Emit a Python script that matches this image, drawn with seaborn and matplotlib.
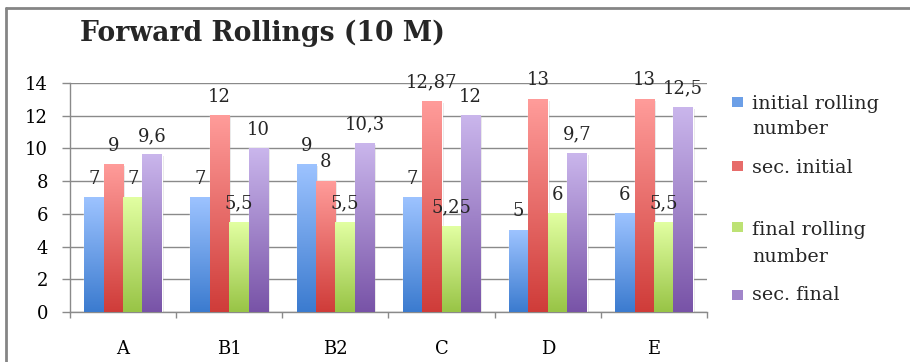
import numpy as np
import pandas as pd
import seaborn as sns
import matplotlib.pyplot as plt
import matplotlib.transforms as mtransforms
from matplotlib.colors import LinearSegmentedColormap, to_rgb
from matplotlib.patches import Rectangle
from matplotlib.lines import Line2D

# ---- data -------------------------------------------------------------
categories = ["A", "B1", "B2", "C", "D", "E"]
series_names = ["initial rolling number", "sec. initial",
                "final rolling number", "sec. final"]
initial_rolling = [7, 7, 9, 7, 5, 6]
sec_initial = [9, 12, 8, 12.87, 13, 13]
final_rolling = [7, 5.5, 5.5, 5.25, 6, 5.5]
sec_final = [9.6, 10, 10.3, 12, 9.7, 12.5]
y_ticks = [0, 2, 4, 6, 8, 10, 12, 14]
legend_lines = [["initial rolling", "number"], ["sec. initial"],
                ["final rolling", "number"], ["sec. final"]]
title = "Forward Rollings (10 M)"

# ---- styling ----------------------------------------------------------
top_colors = ["#9DC3FF", "#FF9C9A", "#E2FFA2", "#CAB6EC"]
bottom_colors = ["#3B7BCF", "#CF3C39", "#98C446", "#7853A7"]
axis_gray = "#8A8A8A"
text_size = 13

sns.set_style("white")
plt.rcParams["font.family"] = ["DejaVu Serif"]

W, H = 910, 362
fig = plt.figure(figsize=(W / 100, H / 100), dpi=100)
ax = fig.add_axes([70 / W, 1 - 312 / H, (707 - 70) / W, (312 - 83) / H])


def fy(py):
    return 1 - py / H


def fx(px):
    return px / W


values = [initial_rolling, sec_initial, final_rolling, sec_final]
df = pd.DataFrame({
    "category": np.repeat([categories], len(series_names), axis=0).ravel(),
    "series": np.repeat(series_names, len(categories)),
    "value": np.concatenate(values),
})

mid_colors = [tuple((np.array(to_rgb(t)) + np.array(to_rgb(b))) / 2)
              for t, b in zip(top_colors, bottom_colors)]

sns.barplot(data=df, x="category", y="value", hue="series",
            order=categories, hue_order=series_names, palette=mid_colors,
            width=0.73, gap=0, errorbar=None, legend=False, ax=ax,
            zorder=2)

# soft drop shadow and vertical gradient fill on every bar
grad = np.linspace(0, 1, 256).reshape(-1, 1)
shadow_tf = mtransforms.offset_copy(ax.transData, fig=fig, x=1.5, y=-1.0,
                                    units="points")
for i, container in enumerate(ax.containers):
    cmap = LinearSegmentedColormap.from_list(
        f"g{i}", [top_colors[i], bottom_colors[i]])
    for bar in container:
        x0, y0 = bar.get_x(), bar.get_y()
        x1, y1 = x0 + bar.get_width(), y0 + bar.get_height()
        ax.add_patch(Rectangle((x0, y0), x1 - x0, y1 - y0,
                               transform=shadow_tf, facecolor="black",
                               alpha=0.1, edgecolor="none", zorder=1.5))
        ax.imshow(grad, cmap=cmap, extent=[x0, x1, y0, y1], origin="upper",
                  aspect="auto", zorder=3, interpolation="bilinear")


# value labels above the bars, decimal comma
def fmt(v):
    return f"{v:g}".replace(".", ",")


for i, container in enumerate(ax.containers):
    for bar, v in zip(container, values[i]):
        ax.annotate(fmt(v), (bar.get_x() + bar.get_width() / 2, v),
                    xytext=(0, 10), textcoords="offset points",
                    ha="center", va="baseline", fontsize=text_size, zorder=5)

ax.set_xlim(-0.5, len(categories) - 0.5)
ax.set_ylim(0, 14)
ax.set_yticks(y_ticks)
ax.set_xlabel("")
ax.set_ylabel("")

ax.yaxis.grid(True, color=axis_gray, lw=1, zorder=0)
ax.set_axisbelow(True)
for side in ["top", "right"]:
    ax.spines[side].set_visible(False)
for side in ["left", "bottom"]:
    ax.spines[side].set_color(axis_gray)
    ax.spines[side].set_linewidth(1)

ax.tick_params(axis="y", length=5.8, width=1, color=axis_gray, pad=10,
               labelsize=text_size, labelcolor="black", direction="out",
               left=True)
ax.set_xticks(range(len(categories)))
ax.set_xticklabels(categories)
ax.tick_params(axis="x", which="major", length=0, pad=20,
               labelsize=text_size, labelcolor="black")
ax.set_xticks(np.arange(-0.5, len(categories), 1.0), minor=True)
ax.tick_params(axis="x", which="minor", length=4.3, width=1,
               color=axis_gray, direction="out", bottom=True)

# chart title
fig.text(fx(262), fy(33), title, ha="center", va="center",
         fontsize=19.2, fontweight="bold")

# legend on the right
square_tops = [97, 161, 222, 290]
baselines = [[109, 134], [173], [235, 262], [300]]
for i in range(len(series_names)):
    fig.add_artist(Rectangle((fx(732), fy(square_tops[i] + 10)),
                             11 / W, 10 / H, transform=fig.transFigure,
                             facecolor=mid_colors[i], edgecolor="none"))
    for line, base in zip(legend_lines[i], baselines[i]):
        fig.text(fx(752), fy(base), line, ha="left", va="baseline",
                 fontsize=13.8)

# chart-area frame (left and top edges)
fig.add_artist(Line2D([fx(6), fx(6)], [0, fy(8)], transform=fig.transFigure,
                      color="#858585", lw=2))
fig.add_artist(Line2D([fx(6), 1], [fy(8), fy(8)], transform=fig.transFigure,
                      color="#858585", lw=2))

fig.savefig("out.png", dpi=100)
